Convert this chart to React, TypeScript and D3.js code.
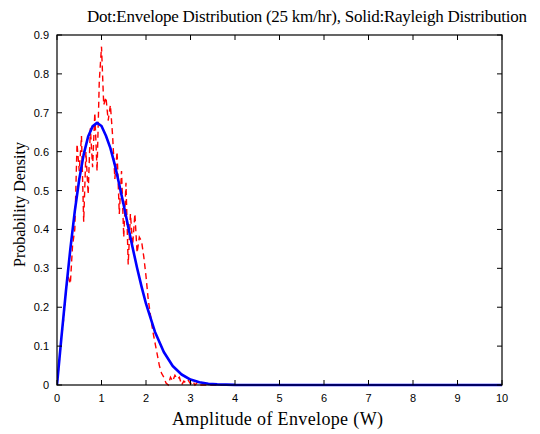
import React from "react";
import * as d3 from "d3";

const xTicks = [0, 1, 2, 3, 4, 5, 6, 7, 8, 9, 10];
const yTicks = [0, 0.1, 0.2, 0.3, 0.4, 0.5, 0.6, 0.7, 0.8, 0.9];

// Rayleigh (solid blue)
const rayX = [0, 0.1, 0.2, 0.3, 0.4, 0.5, 0.6, 0.7, 0.8, 0.9, 1.0, 1.1, 1.2, 1.3, 1.4, 1.5, 1.6, 1.7, 1.8, 1.9, 2.0, 2.2, 2.4, 2.6, 2.8, 3.0, 3.2, 3.4, 3.6, 4.0, 10];
const rayY = [0, 0.123, 0.241, 0.35, 0.447, 0.529, 0.593, 0.639, 0.665, 0.674, 0.666, 0.641, 0.609, 0.566, 0.515, 0.462, 0.407, 0.353, 0.301, 0.253, 0.209, 0.137, 0.085, 0.049, 0.027, 0.014, 0.007, 0.003, 0.0015, 0.0002, 0];

// Envelope distribution (dashed red)
const envX = [0, 0.05, 0.1, 0.15, 0.2, 0.25, 0.3, 0.35, 0.4, 0.45, 0.5, 0.55, 0.6, 0.65, 0.7, 0.75, 0.8, 0.85, 0.9, 0.95, 1.0, 1.05, 1.1, 1.15, 1.2, 1.25, 1.3, 1.35, 1.4, 1.45, 1.5, 1.55, 1.6, 1.65, 1.7, 1.75, 1.8, 1.85, 1.9, 1.95, 2.0, 2.05, 2.1, 2.15, 2.2, 2.25, 2.3, 2.35, 2.4, 2.45, 2.5, 2.55, 2.6, 2.65, 2.7, 2.75, 2.8, 2.85, 2.9, 2.95, 3.0, 3.05, 3.1, 3.15, 3.2, 3.3, 10];
const envY = [0, 0.06, 0.12, 0.17, 0.24, 0.28, 0.26, 0.36, 0.4, 0.62, 0.55, 0.64, 0.42, 0.6, 0.49, 0.66, 0.56, 0.7, 0.55, 0.78, 0.87, 0.72, 0.74, 0.68, 0.72, 0.64, 0.53, 0.6, 0.44, 0.55, 0.38, 0.52, 0.31, 0.44, 0.36, 0.44, 0.34, 0.38, 0.37, 0.33, 0.28, 0.22, 0.18, 0.14, 0.11, 0.08, 0.05, 0.03, 0.02, 0.005, 0, 0.02, 0.01, 0.025, 0.015, 0.02, 0, 0.01, 0.005, 0.012, 0.003, 0.01, 0, 0.006, 0, 0, 0];

const title = "Dot:Envelope Distribution (25 km/hr), Solid:Rayleigh Distribution";
const xLabel = "Amplitude of Envelope (W)";
const yLabel = "Probability Density";

export default function App() {
  const W = 540, H = 434;
  const L = 57, R = 502, T = 35, B = 385;
  const x = d3.scaleLinear().domain([0, 10]).range([L, R]);
  const y = d3.scaleLinear().domain([0, 0.9]).range([B, T]);
  const line = d3.line<[number, number]>().x(d => x(d[0])).y(d => y(d[1]));
  const rayPts = rayX.map((v, i) => [v, rayY[i]] as [number, number]);
  const envPts = envX.map((v, i) => [v, envY[i]] as [number, number]);
  const tick = 5;
  const serif = "'Liberation Serif', 'Times New Roman', serif";
  const sans = "'Liberation Sans', Arial, sans-serif";
  return (
    <svg width={W} height={H} style={{ position: "absolute", left: 0, top: 0, background: "#fff" }}>
      <rect x={0} y={0} width={W} height={H} fill="#fff" />
      <defs>
        <clipPath id="plotclip">
          <rect x={L} y={T - 2} width={R - L} height={B - T + 4} />
        </clipPath>
      </defs>
      <g clipPath="url(#plotclip)">
        <path d={line(envPts) || ""} fill="none" stroke="#ff0000" strokeWidth={1.4} strokeDasharray="6,4" />
        <path d={line(rayPts) || ""} fill="none" stroke="#0000ff" strokeWidth={2.6} strokeLinejoin="round" />
      </g>
      <rect x={L} y={T} width={R - L} height={B - T} fill="none" stroke="#000" strokeWidth={1.2} />
      {xTicks.map(t => (
        <g key={"x" + t}>
          <line x1={x(t)} x2={x(t)} y1={B} y2={B - tick} stroke="#000" />
          <line x1={x(t)} x2={x(t)} y1={T} y2={T + tick} stroke="#000" />
          <text x={x(t)} y={402} fontSize={11} fontFamily={sans} textAnchor="middle">{t}</text>
        </g>
      ))}
      {yTicks.map(t => (
        <g key={"y" + t}>
          <line x1={L} x2={L + tick} y1={y(t)} y2={y(t)} stroke="#000" />
          <line x1={R} x2={R - tick} y1={y(t)} y2={y(t)} stroke="#000" />
          <text x={L - 8} y={y(t) + 4} fontSize={11} fontFamily={sans} textAnchor="end">{t === 0 ? "0" : t.toFixed(1)}</text>
        </g>
      ))}
      <text x={307} y={22} fontSize={17} fontFamily={serif} textAnchor="middle" textLength={440} lengthAdjust="spacing">{title}</text>
      <text x={277.5} y={425} fontSize={18} fontFamily={serif} textAnchor="middle" textLength={211} lengthAdjust="spacing">{xLabel}</text>
      <text transform="translate(25,204.5) rotate(-90)" fontSize={16} fontFamily={serif} textAnchor="middle" textLength={125} lengthAdjust="spacing">{yLabel}</text>
    </svg>
  );
}
